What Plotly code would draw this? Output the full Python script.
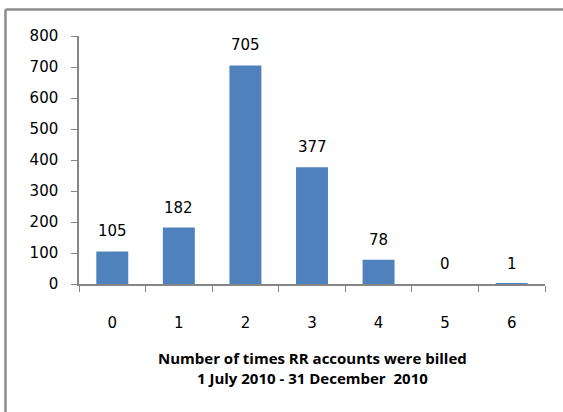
import plotly.graph_objects as go

# Billing frequency counts
times_billed = ["0", "1", "2", "3", "4", "5", "6"]
accounts = [105, 182, 705, 377, 78, 0, 1]
y_ticks = [0, 100, 200, 300, 400, 500, 600, 700, 800]

W, H = 563, 412
L, R, T, B = 79, 18, 36, 128
pw, ph = W - L - R, H - T - B

axis_grey = "#868686"
num_font = dict(family="DejaVu Sans", size=15, color="#000000")

fig = go.Figure(
    go.Bar(
        x=times_billed,
        y=accounts,
        marker=dict(color="#4F81BD", line=dict(width=0)),
        width=0.48,
        hoverinfo="x+y",
    )
)

# value labels above each bar
for cat, val in zip(times_billed, accounts):
    fig.add_annotation(
        x=cat, y=val, text=str(val), showarrow=False,
        yshift=20, font=num_font, xref="x", yref="y",
    )

# outer chart frame (left and top edges visible)
fx = (5.5 - L) / pw
fy = (H - B - 9.5) / ph
fig.add_shape(type="line", xref="paper", yref="paper",
              x0=fx, x1=fx, y0=-1, y1=fy, line=dict(color="#8c8c8c", width=2.5))
fig.add_shape(type="line", xref="paper", yref="paper",
              x0=fx, x1=1.5, y0=fy, y1=fy, line=dict(color="#8c8c8c", width=2.5))

# axis title
fig.add_annotation(
    xref="paper", yref="paper", x=0.5, y=(H - B - 368) / ph,
    xanchor="center", yanchor="middle",
    text="<b>Number of times RR accounts were billed<br>1 July 2010 - 31 December  2010</b>",
    showarrow=False, align="center",
    font=dict(family="Open Sans", size=15, color="#000000"),
)

fig.update_layout(
    width=W, height=H,
    margin=dict(l=L, r=R, t=T, b=B),
    paper_bgcolor="white", plot_bgcolor="white",
    showlegend=False,
    xaxis=dict(
        type="category", tickson="boundaries", ticks="outside", ticklen=6,
        tickcolor=axis_grey, showline=True, linecolor=axis_grey, linewidth=1.5,
        showgrid=False, tickfont=num_font, ticklabelstandoff=24,
        range=[-0.5, 6.5],
    ),
    yaxis=dict(
        range=[0, 800], tickvals=y_ticks, ticks="outside", ticklen=6,
        tickcolor=axis_grey, showline=True, linecolor=axis_grey, linewidth=1.5,
        showgrid=False, zeroline=False, tickfont=num_font, ticklabelstandoff=10,
    ),
)

fig.write_html("out.html")
